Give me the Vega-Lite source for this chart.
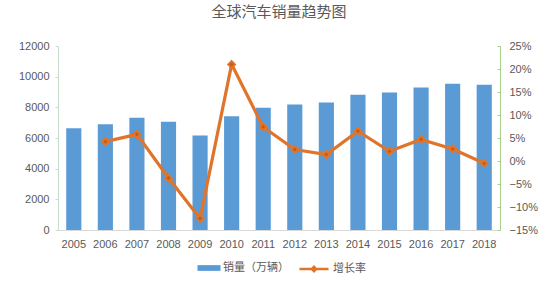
{
  "$schema": "https://vega.github.io/schema/vega-lite/v6.json",
  "autosize": "none",
  "width": 442,
  "height": 184,
  "padding": {"left": 58, "top": 46, "right": 54, "bottom": 51},
  "background": "white",
  "title": {"text": "全球汽车销量趋势图", "font": "Noto Sans CJK SC", "fontSize": 15, "fontWeight": "normal", "color": "#595959", "anchor": "middle", "offset": 20},
  "config": {
    "view": {"stroke": null},
    "axis": {"labelFont": "Liberation Sans", "labelFontSize": 11, "labelColor": "#595959", "grid": false},
    "legend": {"labelFont": "Noto Sans CJK SC", "labelFontSize": 11, "labelColor": "#595959", "padding": 0}
  },
  "data": {"values": [
    {"year": "2005", "sales": 6640, "growth": null},
    {"year": "2006", "sales": 6900, "growth": 0.042},
    {"year": "2007", "sales": 7320, "growth": 0.058},
    {"year": "2008", "sales": 7060, "growth": -0.037},
    {"year": "2009", "sales": 6160, "growth": -0.125},
    {"year": "2010", "sales": 7425, "growth": 0.21},
    {"year": "2011", "sales": 7970, "growth": 0.074},
    {"year": "2012", "sales": 8190, "growth": 0.025},
    {"year": "2013", "sales": 8320, "growth": 0.014},
    {"year": "2014", "sales": 8820, "growth": 0.065},
    {"year": "2015", "sales": 8975, "growth": 0.021},
    {"year": "2016", "sales": 9300, "growth": 0.047},
    {"year": "2017", "sales": 9540, "growth": 0.026},
    {"year": "2018", "sales": 9477, "growth": -0.005}
  ]},
  "encoding": {
    "x": {"field": "year", "type": "ordinal", "scale": {"paddingInner": 0.52, "paddingOuter": 0.26},
      "axis": {"title": null, "labelAngle": 0, "ticks": false, "domainColor": "#D9D9D9", "labelPadding": 8}}
  },
  "layer": [
    {
      "mark": {"type": "bar", "color": "#5B9BD5"},
      "encoding": {
        "y": {"field": "sales", "type": "quantitative", "scale": {"domain": [0, 12000]},
          "axis": {"title": null, "values": [0, 2000, 4000, 6000, 8000, 10000, 12000], "format": "d", "domainColor": "#C9DCCB", "tickColor": "#C9DCCB", "tickSize": 3, "labelPadding": 6}},
        "fill": {"datum": "销量（万辆）", "type": "nominal", "scale": {"range": ["#5B9BD5"]},
          "legend": {"orient": "none", "legendX": 141, "legendY": 212, "symbolType": "M-1.2,-0.3H1.2V0.3H-1.2Z", "symbolSize": 368, "symbolStrokeWidth": 0, "title": null, "labelOffset": 4}}
      }
    },
    {
      "mark": {"type": "line", "color": "#E0742A", "strokeWidth": 3.2, "point": {"shape": "diamond", "filled": true, "size": 45, "color": "#C55A11"}},
      "encoding": {
        "y": {"field": "growth", "type": "quantitative", "scale": {"domain": [-0.15, 0.25]},
          "axis": {"title": null, "orient": "right", "values": [-0.15, -0.1, -0.05, 0, 0.05, 0.1, 0.15, 0.2, 0.25], "format": ".0%", "domainColor": "#A9D18E", "tickColor": "#A9D18E", "tickSize": -3, "labelPadding": 12}},
        "stroke": {"datum": "增长率", "type": "nominal", "scale": {"range": ["#E0742A"]},
          "legend": {"orient": "none", "legendX": 245, "legendY": 212, "symbolType": "M-1.5,0H1.5M0,-0.22L0.22,0L0,0.22L-0.22,0Z", "symbolSize": 375, "symbolStrokeWidth": 2.5, "symbolFillColor": "#C55A11", "title": null, "labelOffset": 8}}
      }
    }
  ],
  "resolve": {"scale": {"y": "independent", "fill": "independent", "stroke": "independent"}}
}
